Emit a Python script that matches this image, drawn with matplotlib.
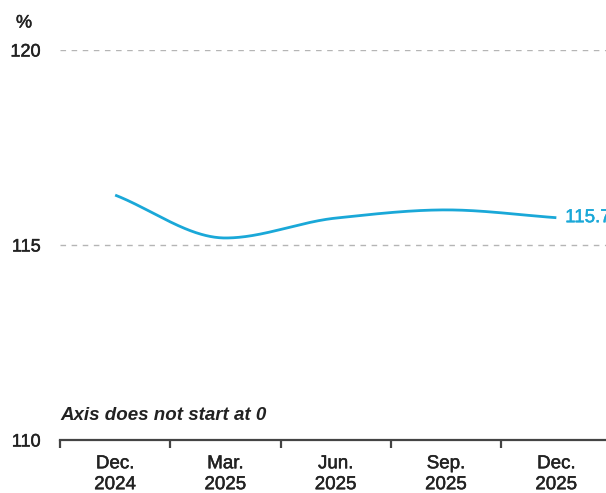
import numpy as np
import matplotlib
matplotlib.use("Agg")
import matplotlib.pyplot as plt
import matplotlib.patheffects as pe

plt.rcParams['font.family'] = ['Liberation Sans', 'DejaVu Sans']

categories = ["Dec.\n2024", "Mar.\n2025", "Jun.\n2025", "Sep.\n2025", "Dec.\n2025"]
values = [116.28, 115.18, 115.69, 115.90, 115.70]
y_ticks = [110, 115, 120]
last_label = "115.7"

LINE_COLOR = "#1aa8d8"
TEXT_COLOR = "#222222"

def fat(color, w=0.35):
    return [pe.withStroke(linewidth=w, foreground=color)]

def pchip(x, y, xs):
    x = np.asarray(x, float); y = np.asarray(y, float)
    h = np.diff(x); d = np.diff(y) / h
    n = len(x); m = np.zeros(n)
    for k in range(1, n - 1):
        if d[k-1] * d[k] > 0:
            w1 = 2*h[k] + h[k-1]; w2 = h[k] + 2*h[k-1]
            m[k] = (w1 + w2) / (w1/d[k-1] + w2/d[k])
    m[0] = d[0]; m[-1] = d[-1]
    out = np.empty_like(xs)
    for i, xv in enumerate(xs):
        k = min(np.searchsorted(x, xv, side='right') - 1, n - 2)
        t = (xv - x[k]) / h[k]
        h00 = 2*t**3 - 3*t**2 + 1; h10 = t**3 - 2*t**2 + t
        h01 = -2*t**3 + 3*t**2; h11 = t**3 - t**2
        out[i] = h00*y[k] + h10*h[k]*m[k] + h01*y[k+1] + h11*h[k]*m[k+1]
    return out

W, H = 606, 493
fig = plt.figure(figsize=(W/100, H/100), dpi=100)
ax = fig.add_axes([60/W, (H-440)/H, 1 - 60/W, 390/H])

x = np.arange(len(values))
xs = np.linspace(0, len(values)-1, 400)
ax.plot(xs, pchip(x, values, xs), color=LINE_COLOR, lw=2.0, solid_capstyle='butt', zorder=3)

for yt in y_ticks[1:]:
    ax.axhline(yt, color="#b5b5b5", lw=1.0, ls=(0, (4, 4)), zorder=1)

for s in ['top', 'right', 'left']:
    ax.spines[s].set_visible(False)
ax.spines['bottom'].set_color("#444444")
ax.spines['bottom'].set_linewidth(1.6)

ax.set_yticks(y_ticks)
ax.set_yticklabels([str(v) for v in y_ticks], fontsize=13, color=TEXT_COLOR)
ax.tick_params(axis='y', length=0, pad=14)
for t in ax.get_yticklabels():
    t.set_path_effects(fat(TEXT_COLOR))

ax.set_xticks(np.arange(len(values)) - 0.5, minor=False)
ax.set_xticklabels([""] * len(values))
ax.tick_params(axis='x', which='major', length=6, width=1.6, color="#444444", direction='out')
ax.set_xticks(x, minor=True)
ax.set_xticklabels(categories, minor=True, fontsize=13.5, color=TEXT_COLOR, linespacing=1.3)
ax.tick_params(axis='x', which='minor', length=0, pad=11)
for t in ax.get_xticklabels(minor=True):
    t.set_path_effects(fat(TEXT_COLOR))

ax.set_xlim(-0.5, (W-60)/110.3 - 0.5)
ax.set_ylim(110, 120)

ax.text(x[-1] + 0.08, values[-1], last_label, color=LINE_COLOR, fontsize=13.5,
        va='center', ha='left', clip_on=False, path_effects=fat(LINE_COLOR))

fig.text(24/W, 1 - 23/H, "%", fontsize=13, color=TEXT_COLOR, ha='center', va='center',
         path_effects=fat(TEXT_COLOR))
fig.text(60/W, 1 - 416/H, "Axis does not start at 0", fontsize=13.5, fontweight='bold',
         fontstyle='italic', color=TEXT_COLOR, ha='left', va='center')

fig.savefig("out.png", dpi=100)
